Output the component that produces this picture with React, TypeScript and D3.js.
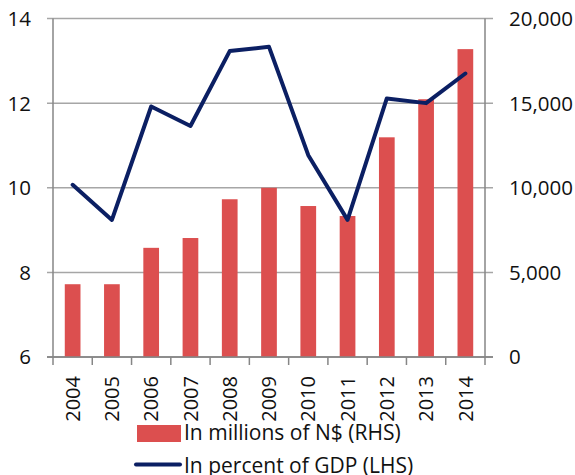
import React from "react";
import * as d3 from "d3";

const years = ["2004","2005","2006","2007","2008","2009","2010","2011","2012","2013","2014"];
const millionsNAD = [4300, 4300, 6450, 7030, 9320, 10000, 8920, 8330, 12980, 15230, 18190];
const percentGDP = [10.07, 9.24, 11.92, 11.46, 13.23, 13.33, 10.77, 9.24, 12.11, 12.0, 12.7];
const leftTicks = [6, 8, 10, 12, 14];
const rightTicks = [0, 5000, 10000, 15000, 20000];
const barLabel = "In millions of N$ (RHS)";
const lineLabel = "In percent of GDP (LHS)";

const W = 575, H = 475;
const plotL = 53, plotR = 485, plotT = 18.5, plotB = 357;
const FONT = "'Open Sans', sans-serif";
const BAR = "#DC4F4F";
const LINE = "#0B1F63";
const GRID = "#A6A6A6";
const AXIS = "#868686";
const TXT = "#111";

export default function App() {
  const x = d3.scaleBand<string>().domain(years).range([plotL, plotR]).padding(0);
  const yL = d3.scaleLinear().domain([6, 14]).range([plotB, plotT]);
  const yR = d3.scaleLinear().domain([0, 20000]).range([plotB, plotT]);
  const step = x.step();
  const bw = step * 0.4;
  const fmt = d3.format(",");
  const line = d3.line<number>()
    .x((_, i) => (x(years[i]) as number) + step / 2)
    .y((d) => yL(d));

  const boundaries = years.map((y) => x(y) as number).concat([plotR]);

  return (
    <svg width={W} height={H} style={{ position: "fixed", left: 0, top: 0 }} fontFamily={FONT}>
      <rect width={W} height={H} fill="#fff" />
      {leftTicks.map((t) => (
        <line key={t} x1={plotL - 6} x2={plotR + 8} y1={yL(t)} y2={yL(t)} stroke={t === 6 ? AXIS : GRID} strokeWidth={1.5} />
      ))}
      {millionsNAD.map((v, i) => (
        <rect key={i} x={(x(years[i]) as number) + step / 2 - bw / 2} y={yR(v)} width={bw} height={plotB - yR(v)} fill={BAR} />
      ))}
      <line x1={plotL} x2={plotL} y1={plotT} y2={plotB} stroke={AXIS} strokeWidth={1.5} />
      <line x1={plotR} x2={plotR} y1={plotT} y2={plotB} stroke={AXIS} strokeWidth={1.5} />
      <line x1={plotL - 6} x2={plotR + 8} y1={plotB} y2={plotB} stroke={AXIS} strokeWidth={1.5} />
      {boundaries.map((b, i) => (
        <line key={i} x1={b} x2={b} y1={plotB} y2={plotB + 8} stroke={AXIS} strokeWidth={1.5} />
      ))}
      <path d={line(percentGDP) || ""} fill="none" stroke={LINE} strokeWidth={4} strokeLinejoin="round" strokeLinecap="round" />
      {leftTicks.map((t) => (
        <text key={t} x={31} y={yL(t)} dy="0.36em" textAnchor="end" fontSize={20.5} fill={TXT}>{t}</text>
      ))}
      {rightTicks.map((t) => (
        <text key={t} x={509} y={yR(t)} dy="0.36em" textAnchor="start" fontSize={20.5} fill={TXT}>{fmt(t)}</text>
      ))}
      {years.map((y) => {
        const cx = (x(y) as number) + step / 2;
        return (
          <text key={y} transform={`translate(${cx},376) rotate(-90)`} dy="0.36em" textAnchor="end" fontSize={20} fill={TXT}>{y}</text>
        );
      })}
      <rect x={137} y={425} width={44} height={17} fill={BAR} />
      <text x={184} y={439.5} fontSize={21} fill={TXT}>{barLabel}</text>
      <line x1={136} x2={180} y1={464.5} y2={464.5} stroke={LINE} strokeWidth={4} strokeLinecap="round" />
      <text x={184} y={473} fontSize={21} fill={TXT}>{lineLabel}</text>
    </svg>
  );
}
